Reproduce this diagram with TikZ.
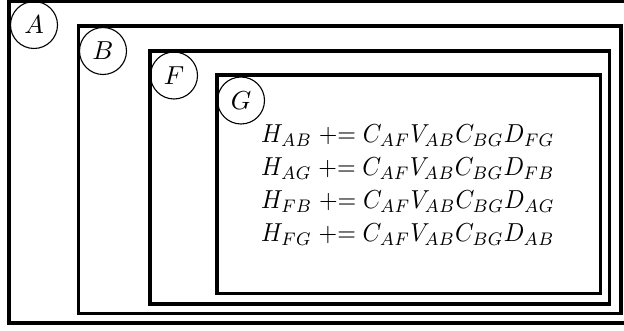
\documentclass[tikz,border=0pt]{standalone}
\usepackage{graphicx}
\newcommand{\mybigmath}[1]{\scalebox{2.6}{$#1$}}
\newcommand{\myeqmath}[1]{\scalebox{2.4}[2.6]{$#1$}}
\begin{document}
\begin{tikzpicture}[x=1pt,y=-1pt,
  box/.style={draw, line width=3.5pt},
  lbl/.style={draw, circle, line width=1.1pt, minimum size=47pt, inner sep=0pt},
  eqn/.style={anchor=base west, inner sep=0pt}]
\useasboundingbox (0,0) rectangle (624,331);
\fill[white] (0,0) rectangle (624,331);
% nested boxes
\draw[box, line width=4.5pt] (9,1) rectangle (628,323);
\draw[box] (78.5,26) rectangle (621,313.5);
\draw[box] (150,51) rectangle (609.5,304);
\draw[box] (217,75) rectangle (600.5,293.5);
% labels
\node[lbl] (A) at (34,25) {\mybigmath{A}};
\node[lbl] (B) at (103,51) {\mybigmath{B}};
\node[lbl] (F) at (174,75.5) {\mybigmath{F}};
\node[lbl] (G) at (241,100.5) {\mybigmath{G}};
% equations
\node[eqn] (e1) at (261,143) {\myeqmath{H_{AB} \mathrel{+}= C_{AF}V_{AB}C_{BG}D_{FG}}};
\node[eqn] (e2) at (261,176) {\myeqmath{H_{AG} \mathrel{+}= C_{AF}V_{AB}C_{BG}D_{FB}}};
\node[eqn] (e3) at (261,209) {\myeqmath{H_{FB} \mathrel{+}= C_{AF}V_{AB}C_{BG}D_{AG}}};
\node[eqn] (e4) at (261,242) {\myeqmath{H_{FG} \mathrel{+}= C_{AF}V_{AB}C_{BG}D_{AB}}};
\end{tikzpicture}
\end{document}
